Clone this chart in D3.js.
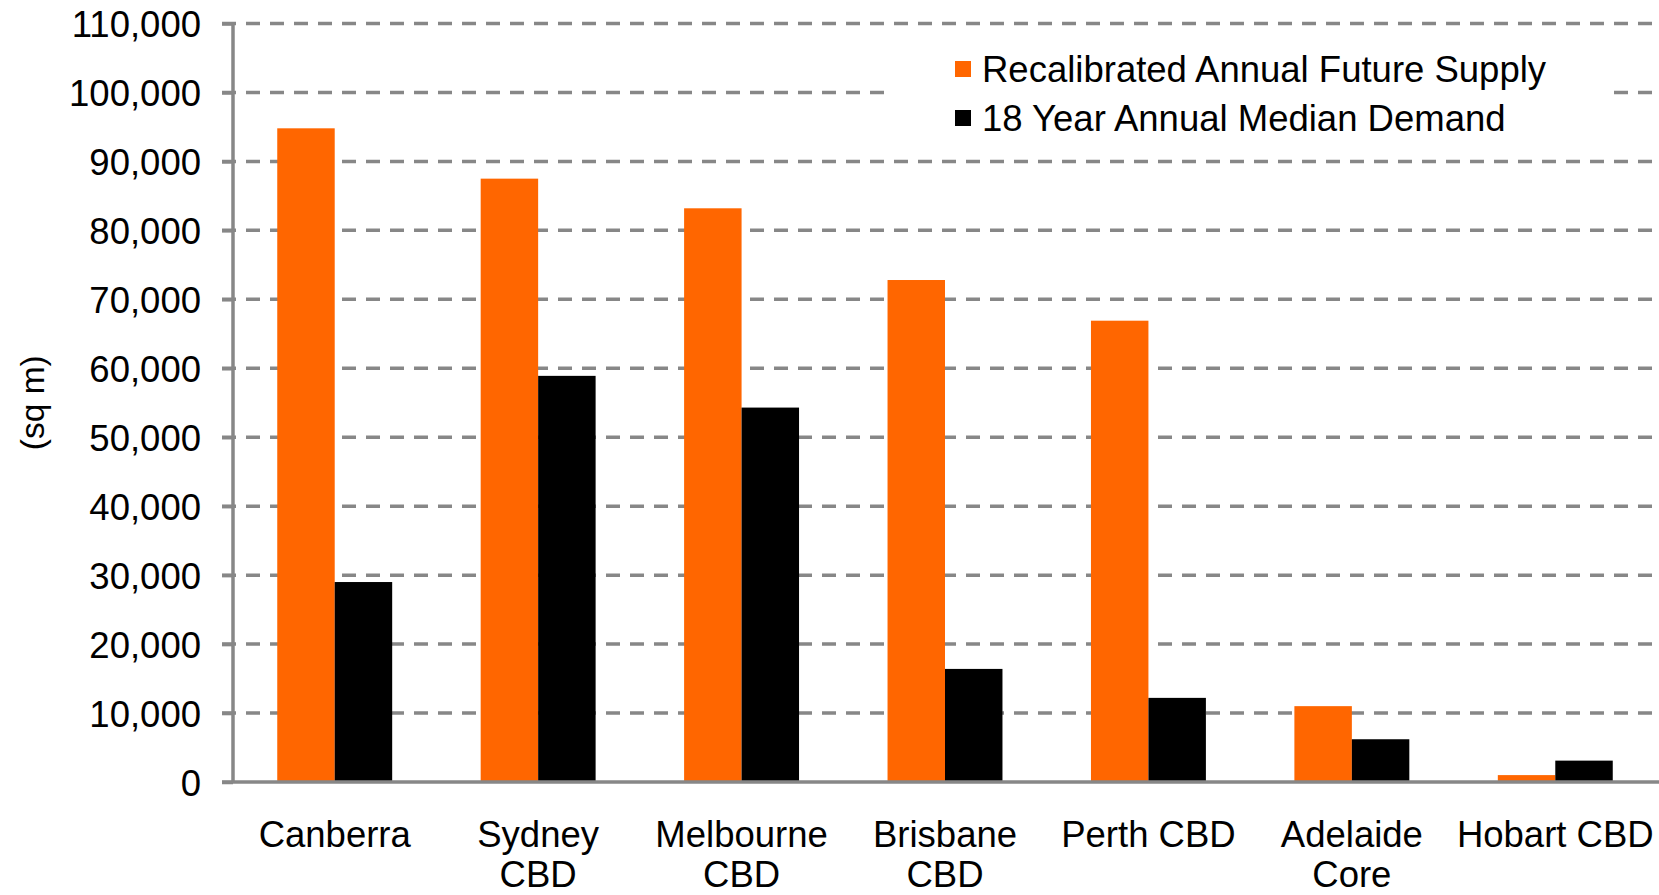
<!DOCTYPE html>
<html>
<head>
<meta charset="utf-8">
<script src="https://cdn.jsdelivr.net/npm/d3@7"></script>
<style>
  html, body { margin: 0; padding: 0; background: #fff; }
  svg { display: block; font-family: "Liberation Sans", Arial, Helvetica, sans-serif; }
</style>
</head>
<body>
<svg id="chart" width="1659" height="895"></svg>
<script>
const categories = ["Canberra", "Sydney CBD", "Melbourne CBD", "Brisbane CBD", "Perth CBD", "Adelaide Core", "Hobart CBD"];
const categoryLines = [["Canberra"], ["Sydney", "CBD"], ["Melbourne", "CBD"], ["Brisbane", "CBD"], ["Perth CBD"], ["Adelaide", "Core"], ["Hobart CBD"]];
const seriesNames = ["Recalibrated Annual Future Supply", "18 Year Annual Median Demand"];
const seriesColors = ["#FF6600", "#000000"];
const supplyValues = [94800, 87500, 83200, 72800, 66900, 11000, 1000];
const demandValues = [29000, 58900, 54300, 16400, 12200, 6200, 3100];
const yTickValues = [0, 10000, 20000, 30000, 40000, 50000, 60000, 70000, 80000, 90000, 100000, 110000];
const yTitle = "(sq m)";

const svg = d3.select("#chart");
const plotLeft = 233, plotRight = 1657, plotTop = 23.5, plotBottom = 782;
const fontSize = 36.5;

const y = d3.scaleLinear().domain([0, 110000]).range([plotBottom, plotTop]);
const x0 = d3.scaleBand().domain(categories).range([plotLeft, plotRight]).paddingInner(0.435).paddingOuter(0.2175);
const x1 = d3.scaleBand().domain([0, 1]).range([0, x0.bandwidth()]);

// gridlines
svg.append("g").selectAll("line").data(yTickValues.filter(v => v > 0)).join("line")
  .attr("x1", plotLeft - 11).attr("x2", plotRight)
  .attr("y1", d => y(d)).attr("y2", d => y(d))
  .attr("stroke", "#878787").attr("stroke-width", 3.5)
  .attr("stroke-dasharray", "14 10");

// legend background
const legendG = svg.append("g");
legendG.append("rect").attr("x", 892).attr("y", 36).attr("width", 721).attr("height", 118).attr("fill", "#fff");

// bars
const rows = categories.map((c, i) => ({ c, vals: [supplyValues[i], demandValues[i]] }));
const groups = svg.append("g").selectAll("g").data(rows).join("g")
  .attr("transform", d => `translate(${x0(d.c)},0)`);
groups.selectAll("rect").data(d => d.vals.map((v, k) => ({ v, k }))).join("rect")
  .attr("x", d => x1(d.k)).attr("width", x1.bandwidth())
  .attr("y", d => y(d.v)).attr("height", d => y(0) - y(d.v))
  .attr("fill", d => seriesColors[d.k]);

// y axis
const yAxis = d3.axisLeft(y).tickValues(yTickValues).tickSize(11).tickPadding(21)
  .tickFormat(d3.format(","));
const yg = svg.append("g").attr("transform", `translate(${plotLeft},0)`).call(yAxis);
yg.select(".domain").attr("stroke", "#878787").attr("stroke-width", 3.5).attr("d", `M0,${plotTop}V${plotBottom}`);
yg.selectAll(".tick line").attr("stroke", "#878787").attr("stroke-width", 3.5);
yg.selectAll(".tick text").attr("font-size", fontSize).attr("fill", "#000")
  .attr("font-family", "'Liberation Sans', Arial, sans-serif").attr("dy", "0.36em");

// x axis
const xAxis = d3.axisBottom(x0).tickSize(0).tickFormat("");
const xg = svg.append("g").attr("transform", `translate(0,${plotBottom})`).call(xAxis);
xg.select(".domain").attr("stroke", "#878787").attr("stroke-width", 3.5).attr("d", `M${plotLeft - 11},0H${plotRight + 2}`);
xg.selectAll(".tick").each(function(d, i) {
  const t = d3.select(this).append("text")
    .attr("text-anchor", "middle").attr("fill", "#000")
    .attr("font-size", fontSize)
    .attr("font-family", "'Liberation Sans', Arial, sans-serif");
  categoryLines[i].forEach((line, j) => {
    t.append("tspan").attr("x", 0).attr("y", 65 + j * 40).text(line);
  });
});

// y title
svg.append("text").attr("transform", `translate(32,${(plotTop + plotBottom) / 2}) rotate(-90)`)
  .attr("text-anchor", "middle").attr("dy", "0.36em")
  .attr("font-size", 33.5).attr("fill", "#000").text(yTitle);

// legend
seriesNames.forEach((name, i) => {
  const cy = 69 + i * 49;
  legendG.append("rect").attr("x", 955).attr("y", cy - 8).attr("width", 16).attr("height", 16).attr("fill", seriesColors[i]);
  legendG.append("text").attr("x", 982).attr("y", cy).attr("dy", "0.36em")
    .attr("font-size", fontSize).attr("fill", "#000").text(name);
});
</script>
</body>
</html>
